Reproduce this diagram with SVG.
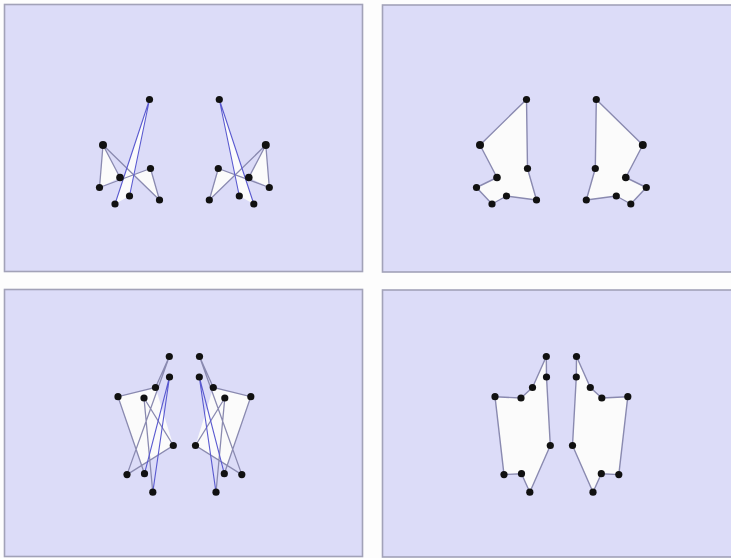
<svg xmlns="http://www.w3.org/2000/svg" xmlns:xlink="http://www.w3.org/1999/xlink" width="731" height="558" viewBox="0 0 731 558">
<style>
.panel{fill:#dcdcf8;stroke:#a2a2b8;stroke-width:1.6}
.poly{fill:#fbfbfb;stroke:#8a8ab0;stroke-width:1.4;stroke-linejoin:round}
.fillw{fill:#fbfbfb;stroke:none}
.edge{fill:none;stroke:#8a8ab0;stroke-width:1.3}
.blue{fill:none;stroke:#5a5ad0;stroke-width:1.1}
.dot{fill:#111}
</style>
<defs>
<g id="dotsTop">
<circle class="dot" cx="149.5" cy="99.5" r="3.6"/>
<circle class="dot" cx="103" cy="145" r="4"/>
<circle class="dot" cx="150.5" cy="168.5" r="3.6"/>
<circle class="dot" cx="120" cy="177.5" r="3.8"/>
<circle class="dot" cx="99.5" cy="187.5" r="3.6"/>
<circle class="dot" cx="129.5" cy="196" r="3.6"/>
<circle class="dot" cx="115" cy="204" r="3.6"/>
<circle class="dot" cx="159.5" cy="200" r="3.6"/>
</g>
<g id="dotsBot">
<circle class="dot" cx="169.3" cy="356.5" r="3.6"/>
<circle class="dot" cx="169.5" cy="377" r="3.6"/>
<circle class="dot" cx="155.5" cy="387.5" r="3.6"/>
<circle class="dot" cx="118" cy="396.7" r="3.6"/>
<circle class="dot" cx="144" cy="398" r="3.6"/>
<circle class="dot" cx="173.3" cy="445.5" r="3.6"/>
<circle class="dot" cx="127" cy="474.6" r="3.6"/>
<circle class="dot" cx="144.5" cy="473.7" r="3.6"/>
<circle class="dot" cx="152.8" cy="492.2" r="3.6"/>
</g>
<g id="badTop">
<polygon class="fillw" points="103,145 99.5,187.5 120,177.5"/>
<polygon class="fillw" points="150.5,168.5 133.5,174.7 159.5,200"/>
<polygon class="fillw" points="149.5,99.5 115,204 129.5,196"/>
<path class="edge" d="M103,145 L99.5,187.5 M103,145 L120,177.5 M103,145 L159.5,200 M99.5,187.5 L150.5,168.5 M150.5,168.5 L159.5,200"/>
<path class="blue" d="M149.5,99.5 L115,204 M149.5,99.5 L129.5,196"/>
</g>
<g id="badBot">
<polygon class="fillw" points="118,396.7 155.5,387.5 173.3,445.5 141.6,465.4"/>
<path class="edge" d="M169.3,356.5 L127,474.6 L173.3,445.5 L144,398 L152.8,492.2 M144.5,473.7 L118,396.7 L155.5,387.5 L169.3,356.5"/>
<path class="blue" d="M152.8,492.2 L169.5,377 L144.5,473.7"/>
</g>
</defs>
<rect width="731" height="558" fill="#fdfdfd"/>
<g id="panels">
<rect id="panel-tl" class="panel" x="4.5" y="4.5" width="358" height="267"/>
<rect id="panel-tr" class="panel" x="382.5" y="5" width="352" height="267"/>
<rect id="panel-bl" class="panel" x="4.5" y="289.5" width="358" height="267"/>
<rect id="panel-br" class="panel" x="382.5" y="290" width="352" height="267"/>
</g>
<g id="connectors">
<g id="tl-left-edges"><use xlink:href="#badTop"/></g>
<g id="tl-right-edges"><use xlink:href="#badTop" transform="matrix(-1 0 0 1 368.8 0)"/></g>
<g id="tr-left-edges" transform="translate(377 0)">
<polygon class="poly" points="149.5,99.5 150.5,168.5 159.5,200 129.5,196 115,204 99.5,187.5 120,177.5 103,145"/>
</g>
<g id="tr-right-edges" transform="matrix(-1 0 0 1 745.8 0)">
<polygon class="poly" points="149.5,99.5 150.5,168.5 159.5,200 129.5,196 115,204 99.5,187.5 120,177.5 103,145"/>
</g>
<g id="bl-left-edges"><use xlink:href="#badBot"/></g>
<g id="bl-right-edges"><use xlink:href="#badBot" transform="matrix(-1 0 0 1 368.8 0)"/></g>
<g id="br-left-edges" transform="translate(377 0)">
<polygon class="poly" points="169.3,356.5 169.5,377 173.3,445.5 152.8,492.2 144.5,473.7 127,474.6 118,396.7 144,398 155.5,387.5"/>
</g>
<g id="br-right-edges" transform="matrix(-1 0 0 1 745.8 0)">
<polygon class="poly" points="169.3,356.5 169.5,377 173.3,445.5 152.8,492.2 144.5,473.7 127,474.6 118,396.7 144,398 155.5,387.5"/>
</g>
</g>
<g id="node-tl-left"><use xlink:href="#dotsTop"/></g>
<g id="node-tl-right"><use xlink:href="#dotsTop" transform="matrix(-1 0 0 1 368.8 0)"/></g>
<g id="node-tr-left"><use xlink:href="#dotsTop" transform="translate(377 0)"/></g>
<g id="node-tr-right"><use xlink:href="#dotsTop" transform="matrix(-1 0 0 1 745.8 0)"/></g>
<g id="node-bl-left"><use xlink:href="#dotsBot"/></g>
<g id="node-bl-right"><use xlink:href="#dotsBot" transform="matrix(-1 0 0 1 368.8 0)"/></g>
<g id="node-br-left"><use xlink:href="#dotsBot" transform="translate(377 0)"/></g>
<g id="node-br-right"><use xlink:href="#dotsBot" transform="matrix(-1 0 0 1 745.8 0)"/></g>
</svg>
